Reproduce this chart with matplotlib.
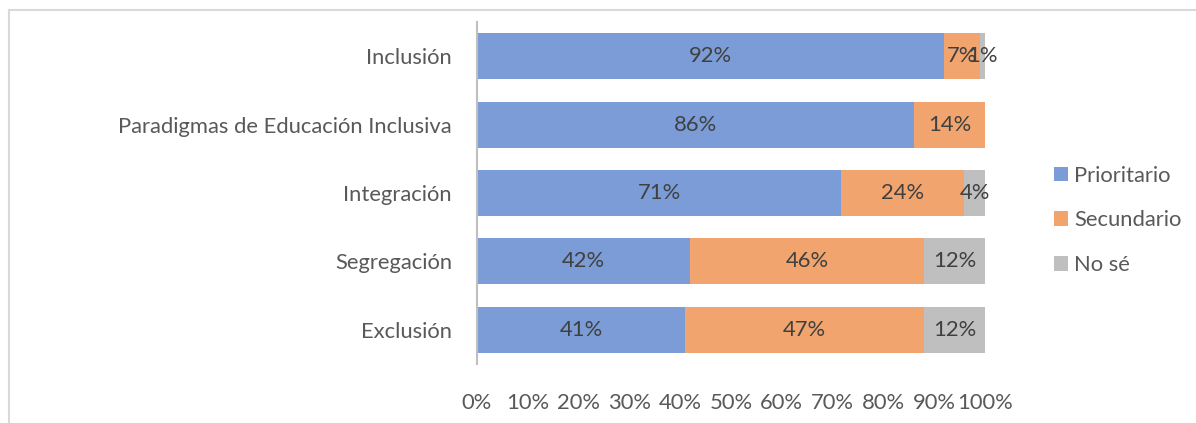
import matplotlib.pyplot as plt
import numpy as np
from matplotlib.lines import Line2D

# Datos del gráfico (porcentajes)
categorias = ["Inclusión", "Paradigmas de Educación Inclusiva", "Integración",
              "Segregación", "Exclusión"]
prioritario = [92, 86, 71, 42, 41]
secundario = [7, 14, 24, 46, 47]
no_se = [1, 0, 4, 12, 12]
series = ["Prioritario", "Secundario", "No sé"]
colores = ["#7B9CD6", "#F1A46E", "#BFBFBF"]
xticks = [0, 10, 20, 30, 40, 50, 60, 70, 80, 90, 100]

plt.rcParams['font.family'] = ['Lato', 'DejaVu Sans']
fs = 15.8

fig = plt.figure(figsize=(11.96, 4.23), dpi=100)
ax = fig.add_axes([0.3988, 0.1395, 0.4248, 0.8085])

valores = np.array([prioritario, secundario, no_se], dtype=float)
totales = valores.sum(axis=0)
partes = valores / totales * 100

y = np.arange(len(categorias))
izquierda = np.zeros(len(categorias))
for i, nombre in enumerate(series):
    ax.barh(y, partes[i], left=izquierda, height=0.67, color=colores[i],
            label=nombre)
    for j in range(len(categorias)):
        if valores[i][j] > 0:
            ax.text(izquierda[j] + partes[i][j] / 2, y[j], f"{int(valores[i][j])}%",
                    ha="center", va="center", fontsize=fs, color="#404040")
    izquierda += partes[i]

ax.set_xlim(0, 100)
ax.set_ylim(len(categorias) - 0.5, -0.5)
ax.set_yticks(y)
ax.set_yticklabels(categorias, fontsize=fs, color="#595959")
ax.set_xticks(xticks)
ax.set_xticklabels([f"{v}%" for v in xticks], fontsize=fs, color="#595959")
ax.tick_params(axis="y", length=0, pad=18)
ax.tick_params(axis="x", length=0, pad=21)
for lado in ["top", "right", "bottom"]:
    ax.spines[lado].set_visible(False)
ax.spines["left"].set_color("#BFBFBF")
ax.spines["left"].set_linewidth(1.5)

ax.legend(loc="center left", bbox_to_anchor=(1.135, 0.42), frameon=False,
          fontsize=fs, labelcolor="#595959", handlelength=0.65,
          handleheight=0.65, handletextpad=0.3, labelspacing=1.12,
          borderpad=0, borderaxespad=0)

# Borde del área del gráfico
fig.add_artist(Line2D([9 / 1196, 9 / 1196], [0, 1 - 10.5 / 423],
                      transform=fig.transFigure, color="#D9D9D9", lw=1.5))
fig.add_artist(Line2D([9 / 1196, 1], [1 - 10.5 / 423, 1 - 10.5 / 423],
                      transform=fig.transFigure, color="#D9D9D9", lw=1.5))

fig.savefig("out.png", dpi=100)
